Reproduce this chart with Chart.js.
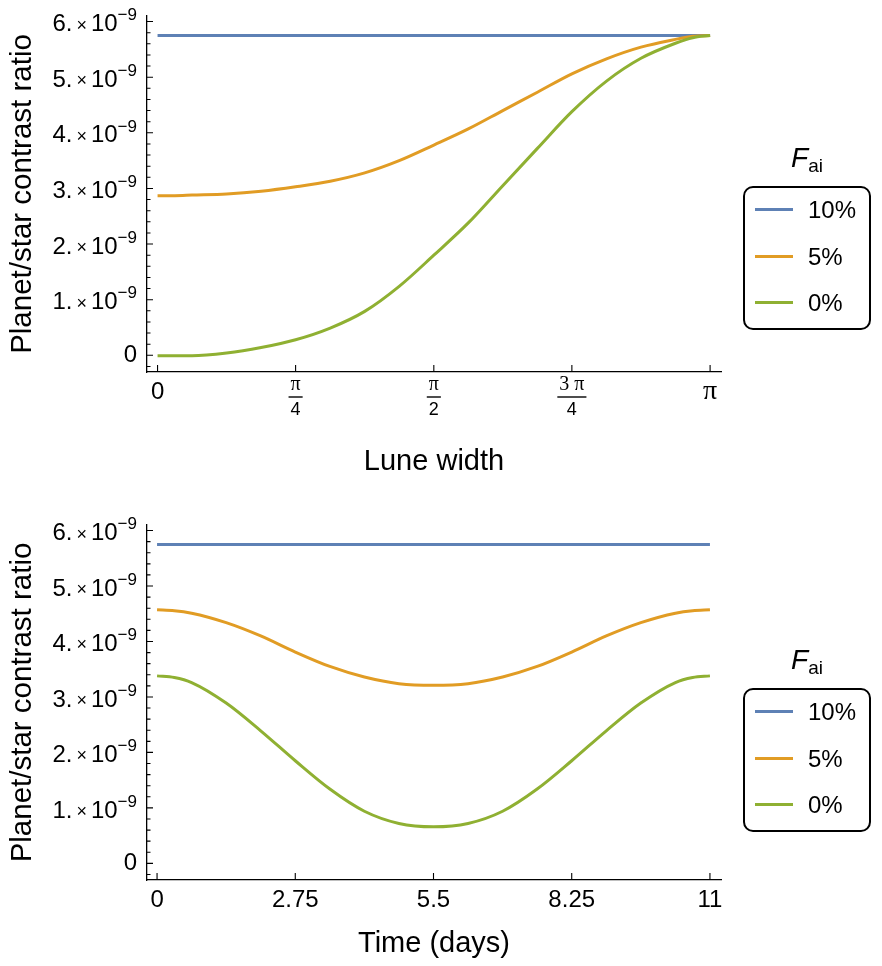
<!DOCTYPE html>
<html>
<head>
<meta charset="utf-8">
<script src="https://cdn.jsdelivr.net/npm/chart.js@4.4.1/dist/chart.umd.min.js"></script>
<style>
  body { margin: 0; background: #fff; font-family: 'Liberation Sans', Arial, sans-serif; }
  .panel { position: absolute; left: 0; width: 882px; height: 483px; }
  .legend-title { position: absolute; left: 743px; width: 128px; text-align: center; font-size: 28px; line-height: 32px; color: #000; }
  .legend-title i { font-style: italic; }
  .legend-title sub { font-size: 19px; vertical-align: -5px; }
  .legend-box { position: absolute; left: 743px; width: 128px; height: 144px; border: 2px solid #000; border-radius: 10px; box-sizing: border-box; }
  .item { position: absolute; left: 10px; height: 30px; }
  .swatch { position: absolute; left: 0; top: 13px; width: 38px; height: 3px; }
  .label { position: absolute; left: 53px; top: 0; font-size: 24px; line-height: 30px; color: #000; white-space: nowrap; }
</style>
</head>
<body>
<div class="panel" style="top:0"><canvas id="luneChart" width="882" height="483"></canvas></div>
<div class="panel" style="top:483px"><canvas id="timeChart" width="882" height="483"></canvas></div>

<div class="legend-title" style="top:142px"><i>F</i><sub>ai</sub></div>
<div class="legend-box" id="legendTop" style="top:186px"></div>
<div class="legend-title" style="top:644px"><i>F</i><sub>ai</sub></div>
<div class="legend-box" id="legendBottom" style="top:688px"></div>

<script>
// series names and colours (Mathematica default palette)
const seriesNames = ['10%', '5%', '0%'];
const seriesColors = ['#5e81b5', '#e19c24', '#8fb032'];

// top panel: lune width in radians, contrast ratio in units of 1e-9
const luneWidth = [0, 0.098, 0.196, 0.393, 0.589, 0.785, 0.982, 1.178, 1.374, 1.571,
  1.767, 1.963, 2.160, 2.356, 2.553, 2.749, 2.945, 3.043, 3.142];
const luneF10 = [5.75, 5.75, 5.75, 5.75, 5.75, 5.75, 5.75, 5.75, 5.75, 5.75,
  5.75, 5.75, 5.75, 5.75, 5.75, 5.75, 5.75, 5.75, 5.75];
const luneF5 = [2.87, 2.87, 2.88, 2.90, 2.95, 3.03, 3.13, 3.28, 3.50, 3.78,
  4.07, 4.40, 4.73, 5.06, 5.33, 5.54, 5.68, 5.735, 5.75];
const luneF0 = [-0.01, -0.01, -0.01, 0.04, 0.14, 0.28, 0.49, 0.79, 1.24, 1.80,
  2.38, 3.05, 3.72, 4.38, 4.93, 5.34, 5.61, 5.71, 5.75];

// bottom panel: time in days
const timeDays = [0, 0.34375, 0.6875, 1.375, 2.0625, 2.75, 3.4375, 4.125, 4.8125, 5.5,
  6.1875, 6.875, 7.5625, 8.25, 8.9375, 9.625, 10.3125, 10.65625, 11];
const timeF10 = [5.75, 5.75, 5.75, 5.75, 5.75, 5.75, 5.75, 5.75, 5.75, 5.75,
  5.75, 5.75, 5.75, 5.75, 5.75, 5.75, 5.75, 5.75, 5.75];
const timeF5 = [4.57, 4.555, 4.51, 4.34, 4.10, 3.81, 3.55, 3.36, 3.24, 3.21,
  3.24, 3.36, 3.55, 3.81, 4.10, 4.34, 4.51, 4.555, 4.57];
const timeF0 = [3.38, 3.35, 3.26, 2.89, 2.39, 1.85, 1.34, 0.94, 0.72, 0.66,
  0.72, 0.94, 1.34, 1.85, 2.39, 2.89, 3.26, 3.35, 3.38];

// tick values and labels
const yTicks = [0, 1, 2, 3, 4, 5, 6];
const yTickMantissa = ['0', '1.', '2.', '3.', '4.', '5.', '6.'];
const yTickExponent = '−9';
const luneTicks = [0, 0.785, 1.571, 2.356, 3.142];
const luneTickNum = ['0', 'π', 'π', '3 π', 'π'];
const luneTickDen = [null, '4', '2', '4', null];
const timeTicks = [0, 2.75, 5.5, 8.25, 11];
const timeTickLabels = ['0', '2.75', '5.5', '8.25', '11'];

const FONT = "'Liberation Sans', Arial, sans-serif";
const SERIF = "'Liberation Serif', 'Times New Roman', serif";

// Mathematica style ticks pointing into the frame
const insideTicks = {
  id: 'insideTicks',
  afterDraw(chart) {
    const { ctx, chartArea: a, scales: { x, y } } = chart;
    ctx.save();
    ctx.strokeStyle = '#000';
    ctx.lineWidth = 1.1;
    ctx.beginPath();
    for (let i = -1; i <= 30; i++) {
      const v = i / 5;
      if (v < y.min || v > y.max) continue;
      const py = y.getPixelForValue(v);
      const len = (i % 5 === 0) ? 6 : 3.5;
      ctx.moveTo(a.left, py);
      ctx.lineTo(a.left + len, py);
    }
    for (const t of x.ticks) {
      const px = x.getPixelForValue(t.value);
      ctx.moveTo(px, a.bottom);
      ctx.lineTo(px, a.bottom - 7);
    }
    ctx.stroke();
    ctx.restore();
  }
};

// y labels like "6. × 10^-9" with a real superscript
const sciLabels = {
  id: 'sciLabels',
  afterDraw(chart) {
    const { ctx, chartArea: a, scales: { y } } = chart;
    const right = a.left - 10;
    ctx.save();
    ctx.fillStyle = '#000';
    ctx.textAlign = 'right';
    ctx.textBaseline = 'middle';
    yTicks.forEach((v, i) => {
      const py = y.getPixelForValue(v);
      if (yTickMantissa[i] === '0') {
        ctx.font = '24px ' + FONT;
        ctx.fillText('0', right, py);
        return;
      }
      let xr = right;
      ctx.font = '17px ' + FONT;
      ctx.fillText(yTickExponent, xr, py - 6);
      xr -= ctx.measureText(yTickExponent).width;
      ctx.font = '24px ' + FONT;
      ctx.fillText('10', xr, py + 3);
      xr -= ctx.measureText('10').width + 4;
      ctx.font = '18px ' + FONT;
      ctx.fillText('×', xr, py + 4);
      xr -= ctx.measureText('×').width + 4;
      ctx.font = '24px ' + FONT;
      ctx.fillText(yTickMantissa[i], xr, py + 3);
    });
    ctx.restore();
  }
};

// fraction labels for the lune width axis
const fractionLabels = {
  id: 'fractionLabels',
  afterDraw(chart) {
    if (chart.canvas.id !== 'luneChart') return;
    const { ctx, chartArea: a, scales: { x } } = chart;
    ctx.save();
    ctx.fillStyle = '#000';
    ctx.strokeStyle = '#000';
    ctx.textAlign = 'center';
    ctx.textBaseline = 'middle';
    luneTicks.forEach((v, i) => {
      const px = x.getPixelForValue(v);
      if (!luneTickDen[i]) {
        ctx.font = (luneTickNum[i] === 'π' ? '28px ' + SERIF : '24px ' + FONT);
        ctx.fillText(luneTickNum[i], px, a.bottom + 20);
      } else {
        ctx.font = '20px ' + SERIF;
        ctx.fillText(luneTickNum[i], px, a.bottom + 13);
        const w = ctx.measureText(luneTickNum[i]).width + 4;
        ctx.lineWidth = 1.4;
        ctx.beginPath();
        ctx.moveTo(px - w / 2, a.bottom + 25);
        ctx.lineTo(px + w / 2, a.bottom + 25);
        ctx.stroke();
        ctx.font = '18px ' + FONT;
        ctx.fillText(luneTickDen[i], px, a.bottom + 38);
      }
    });
    ctx.restore();
  }
};

function makeDatasets(xs, ys) {
  return ys.map((vals, i) => ({
    label: seriesNames[i],
    data: xs.map((xv, j) => ({ x: xv, y: vals[j] })),
    borderColor: seriesColors[i],
    borderWidth: 3,
    pointRadius: 0,
    cubicInterpolationMode: 'monotone',
    fill: false,
    order: 2 - i
  }));
}

function makeOptions(cfg) {
  return {
    responsive: false,
    animation: false,
    layout: { padding: { top: cfg.top, right: 161, left: 0, bottom: 0 } },
    plugins: { legend: { display: false }, tooltip: { enabled: false } },
    scales: {
      x: {
        type: 'linear',
        min: cfg.xMin,
        max: cfg.xMax,
        grid: { drawOnChartArea: false, drawTicks: false },
        border: { display: true, color: '#000', width: 1.3 },
        afterBuildTicks: s => { s.ticks = cfg.xTicks.map(v => ({ value: v })); },
        afterFit: s => { s.height = cfg.xHeight; },
        ticks: {
          display: cfg.xLabels !== null,
          autoSkip: false,
          maxRotation: 0,
          padding: 6,
          color: '#000',
          font: { family: FONT, size: 24 },
          callback: (v, i) => cfg.xLabels ? cfg.xLabels[i] : ''
        },
        title: {
          display: true,
          text: cfg.xTitle,
          color: '#000',
          font: { family: FONT, size: 29 },
          padding: { top: 0, bottom: cfg.xTitlePad }
        }
      },
      y: {
        type: 'linear',
        min: -0.3,
        max: 6.1,
        grid: { drawOnChartArea: false, drawTicks: false },
        border: { display: true, color: '#000', width: 1.3 },
        afterBuildTicks: s => { s.ticks = yTicks.map(v => ({ value: v })); },
        afterFit: s => { s.width = 147; },
        ticks: { display: false },
        title: {
          display: true,
          text: 'Planet/star contrast ratio',
          color: '#000',
          font: { family: FONT, size: 29.5 },
          padding: { top: 5, bottom: 0 }
        }
      }
    }
  };
}

new Chart(document.getElementById('luneChart'), {
  type: 'line',
  data: { datasets: makeDatasets(luneWidth, [luneF10, luneF5, luneF0]) },
  options: makeOptions({
    top: 16, xMin: -0.06, xMax: 3.204, xTicks: luneTicks, xLabels: null,
    xHeight: 111, xTitle: 'Lune width', xTitlePad: 4
  }),
  plugins: [insideTicks, sciLabels, fractionLabels]
});

new Chart(document.getElementById('timeChart'), {
  type: 'line',
  data: { datasets: makeDatasets(timeDays, [timeF10, timeF5, timeF0]) },
  options: makeOptions({
    top: 42, xMin: -0.2, xMax: 11.22, xTicks: timeTicks, xLabels: timeTickLabels,
    xHeight: 86, xTitle: 'Time (days)', xTitlePad: 5
  }),
  plugins: [insideTicks, sciLabels]
});

// HTML legends
function buildLegend(id) {
  const box = document.getElementById(id);
  const tops = [7, 54, 100];
  seriesNames.forEach((name, i) => {
    const item = document.createElement('div');
    item.className = 'item';
    item.style.top = tops[i] + 'px';
    item.innerHTML = '<div class="swatch" style="background:' + seriesColors[i] + '"></div>' +
      '<div class="label">' + name + '</div>';
    box.appendChild(item);
  });
}
buildLegend('legendTop');
buildLegend('legendBottom');
</script>
</body>
</html>
